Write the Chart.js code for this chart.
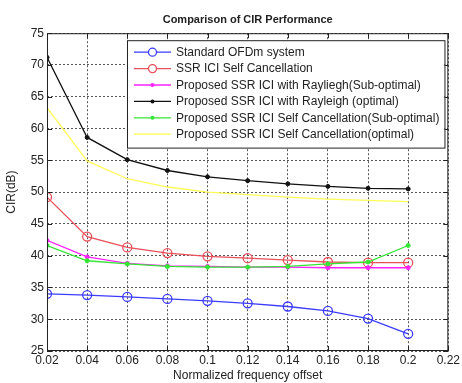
<!DOCTYPE html>
<html>
<head>
<meta charset="utf-8">
<script src="https://cdn.jsdelivr.net/npm/chart.js@4"></script>
<style>
  html, body { margin: 0; background: #fff; }
  #c { display: block; }
</style>
</head>
<body>
<canvas id="c" width="462" height="383"></canvas>
<script>
"use strict";

// normalized frequency offset (x) and CIR in dB for each curve
const offsets = [0.02, 0.04, 0.06, 0.08, 0.10, 0.12, 0.14, 0.16, 0.18, 0.20];
const standardOfdm   = [34.0, 33.8, 33.5, 33.2, 32.9, 32.5, 32.0, 31.3, 30.1, 27.7];
const ssrSelfCancel  = [49.2, 43.0, 41.3, 40.4, 39.9, 39.6, 39.3, 39.0, 38.9, 38.9];
const rayleighSubOpt = [42.4, 39.8, 38.8, 38.4, 38.3, 38.2, 38.2, 38.1, 38.1, 38.1];
const rayleighOpt    = [71.2, 58.6, 55.1, 53.4, 52.4, 51.8, 51.3, 50.9, 50.6, 50.5];
const selfCancSubOpt = [41.6, 39.2, 38.7, 38.3, 38.2, 38.2, 38.3, 38.7, 39.0, 41.6];
const selfCancOpt    = [63.3, 54.9, 52.1, 50.8, 50.0, 49.6, 49.2, 48.9, 48.7, 48.5];

const seriesLabels = [
  "Standard OFDm system",
  "SSR ICI Self Cancellation",
  "Proposed SSR ICI with Rayliegh(Sub-optimal)",
  "Proposed SSR ICI with Rayleigh (optimal)",
  "Proposed SSR ICI Self Cancellation(Sub-optimal)",
  "Proposed SSR ICI Self Cancellation(optimal)",
];
const xTicks = { min: 0.02, max: 0.22, step: 0.02 };
const yTicks = { min: 25, max: 75, step: 5 };

const FONT = "'Liberation Sans', Arial, sans-serif";
const pts = (ys) => offsets.map((x, i) => ({ x, y: ys[i] }));

// marker: "o" = open circle, "." = small dot, null = none
function series(label, ys, color, marker, i) {
  return {
    label, data: pts(ys), borderColor: color, backgroundColor: color,
    borderWidth: 1.3, tension: 0, order: -i,
    marker,
    pointStyle: "circle",
    pointRadius: marker === "o" ? 4.5 : marker === "." ? 2 : 0,
    pointBorderWidth: marker === "o" ? 1.3 : 1,
    pointBackgroundColor: marker === "o" ? "rgba(255,255,255,0)" : color,
    pointBorderColor: color,
  };
}

const datasets = [
  series(seriesLabels[0], standardOfdm,   "#3c3cff", "o", 0),
  series(seriesLabels[1], ssrSelfCancel,  "#e8505a", "o", 1),
  series(seriesLabels[2], rayleighSubOpt, "#ff22ff", ".", 2),
  series(seriesLabels[3], rayleighOpt,    "#111111", ".", 3),
  series(seriesLabels[4], selfCancSubOpt, "#33e633", ".", 4),
  series(seriesLabels[5], selfCancOpt,    "#ffff55", null, 5),
];

// matlab-ish box: frame on all sides + inward tick marks, then the legend inside the axes
const matlabBox = {
  id: "matlabBox",
  afterDraw(chart) {
    const { ctx, chartArea: a, scales } = chart;
    ctx.save();
    ctx.strokeStyle = "#222";
    ctx.lineWidth = 1;
    ctx.strokeRect(a.left + 0.5, a.top + 0.5, a.right - a.left - 1, a.bottom - a.top - 1);
    const tl = 5;
    ctx.beginPath();
    scales.x.ticks.forEach((t) => {
      const px = Math.round(scales.x.getPixelForValue(t.value)) + 0.5;
      ctx.moveTo(px, a.bottom); ctx.lineTo(px, a.bottom - tl);
      ctx.moveTo(px, a.top); ctx.lineTo(px, a.top + tl);
    });
    scales.y.ticks.forEach((t) => {
      const py = Math.round(scales.y.getPixelForValue(t.value)) + 0.5;
      ctx.moveTo(a.left, py); ctx.lineTo(a.left + tl, py);
      ctx.moveTo(a.right, py); ctx.lineTo(a.right - tl, py);
    });
    ctx.stroke();

    // legend
    ctx.font = "12px " + FONT;
    const ds = chart.data.datasets;
    const maxW = Math.max(...ds.map((d) => ctx.measureText(d.label).width));
    const rowH = 16.4;
    const w = 50 + maxW + 4;
    const h = ds.length * rowH + 9;
    const right = a.right - 4;
    const left = Math.round(right - w);
    const top = a.top + 7;
    ctx.fillStyle = "#fff";
    ctx.fillRect(left, top, w, h);
    ctx.strokeStyle = "#222";
    ctx.strokeRect(left + 0.5, top + 0.5, w, h);
    ds.forEach((d, i) => {
      const cy = top + 12 + i * rowH;
      ctx.strokeStyle = d.borderColor;
      ctx.lineWidth = 1.3;
      ctx.beginPath();
      ctx.moveTo(left + 7, cy); ctx.lineTo(left + 44, cy);
      ctx.stroke();
      if (d.marker === "o") {
        ctx.beginPath();
        ctx.arc(left + 25.5, cy, 4, 0, Math.PI * 2);
        ctx.fillStyle = "#fff";
        ctx.fill();
        ctx.stroke();
      } else if (d.marker === ".") {
        ctx.beginPath();
        ctx.arc(left + 25.5, cy, 2, 0, Math.PI * 2);
        ctx.fillStyle = d.borderColor;
        ctx.fill();
      }
      ctx.fillStyle = "#222";
      ctx.textBaseline = "middle";
      ctx.textAlign = "left";
      ctx.fillText(d.label, left + 49, cy + 0.5);
    });
    ctx.restore();
  },
};

const tickFont = { family: FONT, size: 12 };
const fmt = (v) => String(parseFloat(Number(v).toFixed(2)));

new Chart(document.getElementById("c"), {
  type: "line",
  data: { datasets },
  plugins: [matlabBox],
  options: {
    responsive: false,
    animation: false,
    devicePixelRatio: 1,
    layout: { padding: { right: 11, left: 0, top: 0, bottom: 0 } },
    plugins: {
      legend: { display: false },
      tooltip: { enabled: false },
      title: {
        display: true, fullSize: false,
        text: "Comparison of CIR Performance",
        color: "#222",
        font: { family: FONT, size: 11, weight: "bold" },
        padding: { top: 13, bottom: 7 },
      },
    },
    scales: {
      x: {
        type: "linear", min: xTicks.min, max: xTicks.max,
        afterFit: (s) => { s.height = 32; },
        ticks: { stepSize: xTicks.step, color: "#222", font: tickFont, padding: 2,
                 maxRotation: 0, autoSkip: false, callback: fmt },
        grid: { color: "#555", lineWidth: 1, drawTicks: false },
        border: { display: false, dash: [2, 2] },
        title: { display: true, text: "Normalized frequency offset", color: "#222",
                 font: { family: FONT, size: 12 }, padding: { top: 0, bottom: 0 } },
      },
      y: {
        min: yTicks.min, max: yTicks.max,
        afterFit: (s) => { s.width = 47; },
        ticks: { stepSize: yTicks.step, color: "#222", font: tickFont, padding: 3 },
        grid: { color: "#555", lineWidth: 1, drawTicks: false },
        border: { display: false, dash: [2, 2] },
        title: { display: true, text: "CIR(dB)", color: "#222",
                 font: { family: FONT, size: 12 }, padding: { top: 4, bottom: 0 } },
      },
    },
  },
});
</script>
</body>
</html>
